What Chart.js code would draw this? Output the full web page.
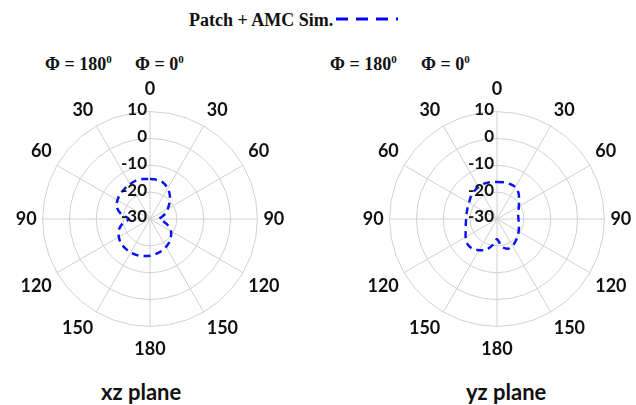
<!DOCTYPE html>
<html>
<head>
<meta charset="utf-8">
<script src="https://cdn.jsdelivr.net/npm/chart.js@4.4.1/dist/chart.umd.min.js"></script>
<style>
  html, body { margin: 0; padding: 0; background: #fff; }
  body { width: 636px; height: 405px; position: relative; overflow: hidden; }
  .serif { position: absolute; font-family: "Liberation Serif", serif; font-weight: bold; font-size: 18px; color: #111; white-space: nowrap; }
  .serif sup { font-size: 11px; vertical-align: 7px; line-height: 0; }
  .plane { position: absolute; font-family: Lato, sans-serif; font-weight: bold; font-size: 22px; color: #111; white-space: nowrap; }
  canvas { position: absolute; }
</style>
</head>
<body>
<div class="serif" style="left:189px; top:10px;">Patch + AMC Sim.</div>
<svg style="position:absolute; left:336px; top:13px;" width="66" height="12">
  <line x1="0" y1="6" x2="62" y2="6" stroke="#0000ff" stroke-width="3" stroke-dasharray="12,8" />
</svg>

<div class="serif" style="left:45px; top:54px;">Φ = 180<sup>0</sup></div>
<div class="serif" style="left:135px; top:54px;">Φ = 0<sup>0</sup></div>
<div class="serif" style="left:330px; top:54px;">Φ = 180<sup>0</sup></div>
<div class="serif" style="left:421px; top:54px;">Φ = 0<sup>0</sup></div>

<canvas id="xzChart" width="290" height="290" style="left:5px; top:75px;"></canvas>
<canvas id="yzChart" width="290" height="290" style="left:352px; top:75px;"></canvas>

<div class="plane" style="left:101px; top:378px;">xz plane</div>
<div class="plane" style="left:466px; top:378px;">yz plane</div>

<script>
// angles every 10 deg, clockwise from top (theta 0..350)
const angleLabels = [
  "0", "", "", "30", "", "", "60", "", "", "90", "", "",
  "120", "", "", "150", "", "", "180", "", "", "150", "", "",
  "120", "", "", "90", "", "", "60", "", "", "30", "", ""
];

const radialTicks = [10, 0, -10, -20, -30];

// Patch + AMC Sim. (dB), xz plane
const xzValues = [
  -15.1, -15.2, -15.6, -16.8, -18.5, -20.5, -22.3, -23.8, -25.5,
  -26.5, -25.0, -22.8, -21.0, -19.8, -18.8, -18.0, -17.3, -16.8,
  -16.3, -16.0, -15.7, -15.6, -15.7, -15.9, -16.6, -17.6, -19.5,
  -22.0, -19.0, -16.8, -16.0, -15.5, -15.3, -15.0, -14.8, -14.9
];

// Patch + AMC Sim. (dB), yz plane
const yzValues = [
  -16.2, -16.1, -16.1, -16.3, -17.5, -19.3, -20.6, -21.5, -22.0,
  -22.0, -21.8, -21.3, -20.7, -20.0, -19.2, -18.5, -18.2, -19.5,
  -22.5, -20.0, -17.8, -16.6, -15.6, -15.6, -16.5, -17.6, -18.2,
  -18.5, -18.5, -18.3, -18.0, -17.2, -16.6, -16.2, -16.0, -16.1
];

const gridColor = "#d0d0d0";
const lineColor = "#0a14f0";

// radial tick labels, right aligned against the 0 deg spoke
const tickLabelPlugin = {
  id: "tickLabels",
  afterDraw(chart) {
    const scale = chart.scales.r;
    const ctx = chart.ctx;
    ctx.save();
    ctx.font = "bold 17px Lato, sans-serif";
    ctx.fillStyle = "#111";
    ctx.textAlign = "right";
    ctx.textBaseline = "middle";
    radialTicks.forEach((v) => {
      const d = scale.getDistanceFromCenterForValue(v);
      ctx.fillText(String(v), scale.xCenter - 3, scale.yCenter - d - 2);
    });
    ctx.restore();
  },
};

function renderPolar(id, values) {
  const ctx = document.getElementById(id).getContext("2d");
  return new Chart(ctx, {
    type: "radar",
    data: {
      labels: angleLabels,
      datasets: [
        {
          label: "Patch + AMC Sim.",
          data: values,
          borderColor: lineColor,
          backgroundColor: "rgba(0,0,0,0)",
          borderWidth: 2.5,
          borderDash: [7, 5],
          pointRadius: 0,
          fill: false,
          tension: 0.3,
        },
      ],
    },
    options: {
      responsive: false,
      animation: false,
      layout: { padding: 4 },
      plugins: {
        legend: { display: false },
        tooltip: { enabled: false },
      },
      scales: {
        r: {
          min: -30,
          max: 10,
          ticks: { stepSize: 10, display: false },
          grid: { color: gridColor, lineWidth: 1 },
          angleLines: {
            color: (c) => (c.index % 3 === 0 ? gridColor : "rgba(0,0,0,0)"),
            lineWidth: 1,
          },
          pointLabels: {
            color: "#111",
            font: { family: "Lato, sans-serif", weight: "bold", size: 18 },
            padding: (c) => (c.index === 0 || c.index === 18 ? 12 : 6),
          },
        },
      },
    },
    plugins: [tickLabelPlugin],
  });
}

renderPolar("xzChart", xzValues);
renderPolar("yzChart", yzValues);
</script>
</body>
</html>
